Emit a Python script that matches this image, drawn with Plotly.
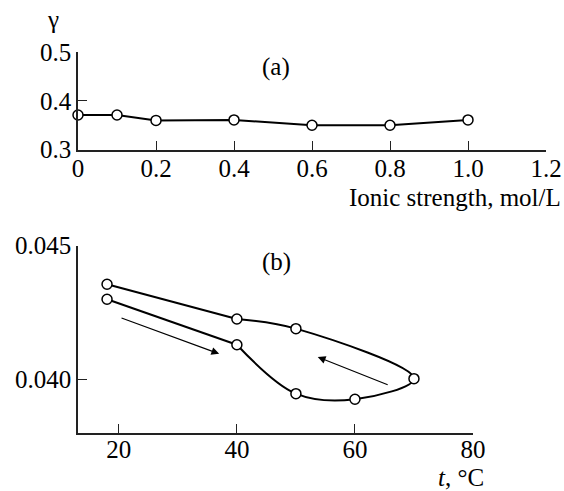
import plotly.graph_objects as go

# Panel (a): gamma vs ionic strength
ionic = [0, 0.1, 0.2, 0.4, 0.6, 0.8, 1.0]
gamma = [0.371, 0.371, 0.360, 0.361, 0.350, 0.350, 0.361]
a_xticks = [0, 0.2, 0.4, 0.6, 0.8, 1.0, 1.2]
a_xlabels = ["0", "0.2", "0.4", "0.6", "0.8", "1.0", "1.2"]
a_yticks = [0.3, 0.4, 0.5]
a_ylabels = ["0.3", "0.4", "0.5"]

# Panel (b): heating and cooling branches
heat_t = [18, 40, 50, 60, 70]
heat_v = [0.04300, 0.04130, 0.03947, 0.03926, 0.04003]
cool_t = [70, 50, 40, 18]
cool_v = [0.04003, 0.04190, 0.04226, 0.04356]
b_xticks = [20, 40, 60, 80]
b_yticks = [0.040, 0.045]
b_ylabels = ["0.040", "0.045"]

# Direction arrows (tail -> head)
arrow_heat = dict(t0=20.2, v0=0.04232, t1=37.0, v1=0.04096)
arrow_cool = dict(t0=65.8, v0=0.03978, t1=53.7, v1=0.04084)

FONT = "Liberation Serif, Times New Roman, serif"
FS = 25
LINE = dict(color="black", width=2)
MARK = dict(symbol="circle", size=10, color="white", line=dict(color="black", width=1.5))

fig = go.Figure()

fig.add_trace(go.Scatter(x=ionic, y=gamma, mode="lines+markers", line=LINE, marker=MARK,
                         xaxis="x", yaxis="y", showlegend=False, cliponaxis=False))

# heating branch: straight part then smooth curve through the turning point
fig.add_trace(go.Scatter(x=heat_t[:2], y=heat_v[:2], mode="lines", line=LINE,
                         xaxis="x2", yaxis="y2", showlegend=False))
loop_t = heat_t[1:] + cool_t[1:3]
loop_v = heat_v[1:] + cool_v[1:3]
fig.add_trace(go.Scatter(x=loop_t, y=loop_v, mode="lines",
                         line=dict(color="black", width=2, shape="spline", smoothing=1.0),
                         xaxis="x2", yaxis="y2", showlegend=False))
fig.add_trace(go.Scatter(x=cool_t[2:], y=cool_v[2:], mode="lines", line=LINE,
                         xaxis="x2", yaxis="y2", showlegend=False))
fig.add_trace(go.Scatter(x=heat_t + cool_t[1:], y=heat_v + cool_v[1:], mode="markers", marker=MARK,
                         xaxis="x2", yaxis="y2", showlegend=False, cliponaxis=False))

axis_common = dict(showline=True, linecolor="#222", linewidth=1.5, ticks="inside", ticklen=9,
                   tickwidth=1.3, tickcolor="#222", showgrid=False, zeroline=False,
                   tickfont=dict(family=FONT, size=FS, color="black"))

fig.update_layout(
    width=564, height=491,
    margin=dict(l=78, r=18, t=52, b=58, autoexpand=False),
    plot_bgcolor="white", paper_bgcolor="white",
    xaxis=dict(axis_common, domain=[0, 1], anchor="y", range=[0, 1.2],
               tickvals=a_xticks, ticktext=a_xlabels, ticklabelstandoff=-4),
    yaxis=dict(axis_common, domain=[0.7436, 1.0], anchor="x", range=[0.3, 0.5],
               tickvals=a_yticks, ticktext=a_ylabels),
    xaxis2=dict(axis_common, domain=[0, 0.844], anchor="y2", range=[13.08, 80],
                tickvals=b_xticks, ticklabelstandoff=-7),
    yaxis2=dict(axis_common, domain=[0, 0.4916], anchor="x2", range=[0.038, 0.045],
                tickvals=b_yticks, ticktext=b_ylabels),
)

txt = dict(family=FONT, size=FS, color="black")
ann = []
ann.append(dict(text="γ", xref="paper", yref="paper", x=-0.0528, y=1.084,
                xanchor="center", yanchor="middle", showarrow=False, font=txt))
ann.append(dict(text="(a)", xref="x", yref="y", x=0.507, y=0.469, showarrow=False, font=txt))
ann.append(dict(text="Ionic strength, mol/L", xref="paper", yref="paper", x=1.0363, y=0.6168,
                xanchor="right", yanchor="middle", showarrow=False, font=txt))
ann.append(dict(text="(b)", xref="x2", yref="y2", x=46.7, y=0.04439, showarrow=False, font=txt))
ann.append(dict(text="<i>t</i>, °C", xref="paper", yref="paper", x=0.8697, y=-0.1181,
                xanchor="right", yanchor="middle", borderpad=0, showarrow=False, font=txt))
for a in (arrow_heat, arrow_cool):
    ann.append(dict(x=a["t1"], y=a["v1"], ax=a["t0"], ay=a["v0"], xref="x2", yref="y2",
                    axref="x2", ayref="y2", text="", showarrow=True, arrowhead=2,
                    arrowsize=1.3, arrowwidth=1.2, arrowcolor="black"))
fig.update_layout(annotations=ann)

fig.write_html("out.html",
               config={"displayModeBar": False},
               post_script="document.body.style.margin='0';"
                           "document.documentElement.style.overflow='hidden';"
                           "document.body.style.overflow='hidden';")
